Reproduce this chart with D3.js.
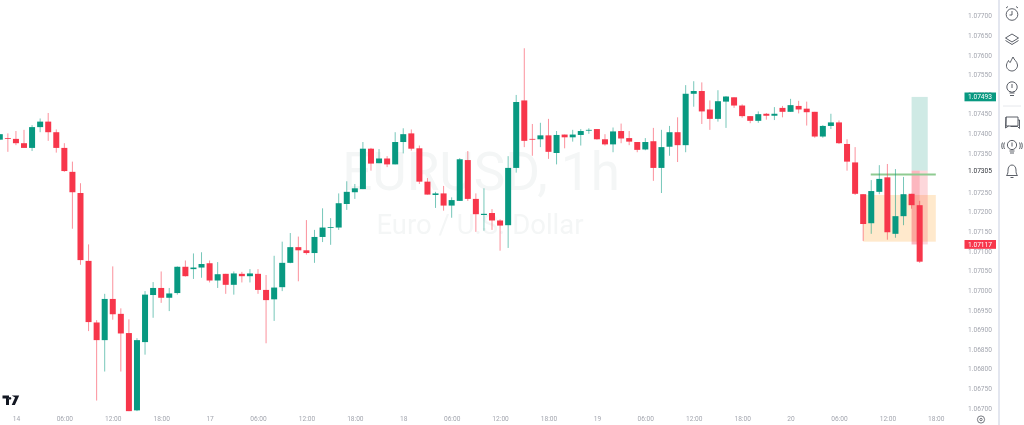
<!doctype html>
<html>
<head>
<meta charset="utf-8" />
<style>
  html, body { margin: 0; padding: 0; background: #fff; overflow: hidden; }
  text { font-family: Roboto, "Liberation Sans", sans-serif; }
</style>
<script src="https://cdn.jsdelivr.net/npm/d3@7"></script>
</head>
<body>
<div id="chart"></div>
<script>
// EUR/USD 1h candles, one entry per bar
const opens = [
  1.07384, 1.07388, 1.07386, 1.07375, 1.07363, 1.07416, 1.07430, 1.07403, 1.07363, 1.07302,
  1.07248, 1.07075, 1.06918, 1.06873, 1.06978, 1.06940, 1.06891, 1.06694, 1.06868, 1.06988,
  1.07006, 1.06981, 1.06993, 1.07060, 1.07054, 1.07058, 1.07069, 1.07025, 1.07042, 1.07014,
  1.07042, 1.07036, 1.07042, 1.07001, 1.06977, 1.07008, 1.07070, 1.07110, 1.07102, 1.07095,
  1.07136, 1.07160, 1.07160, 1.07220, 1.07250, 1.07258, 1.07361, 1.07324, 1.07336, 1.07321,
  1.07378, 1.07400, 1.07362, 1.07277, 1.07243, 1.07247, 1.07216, 1.07228, 1.07332, 1.07233,
  1.07192, 1.07197, 1.07178, 1.07166, 1.07312, 1.07484, 1.07386, 1.07385, 1.07395, 1.07350,
  1.07397, 1.07390, 1.07396, 1.07407, 1.07411, 1.07385, 1.07372, 1.07406, 1.07388, 1.07378,
  1.07359, 1.07380, 1.07312, 1.07366, 1.07403, 1.07370, 1.07501, 1.07508, 1.07461, 1.07437,
  1.07481, 1.07492, 1.07471, 1.07444, 1.07432, 1.07450, 1.07445, 1.07465, 1.07455, 1.07470,
  1.07463, 1.07455, 1.07392, 1.07419, 1.07428, 1.07373, 1.07326, 1.07245, 1.07171, 1.07251,
  1.07288, 1.07144, 1.07189, 1.07246, 1.07217,
];
const highs = [
  1.07398, 1.07400, 1.07406, 1.07409, 1.07421, 1.07438, 1.07452, 1.07410, 1.07375, 1.07328,
  1.07273, 1.07117, 1.06924, 1.06991, 1.07061, 1.06954, 1.06926, 1.06878, 1.06998, 1.07021,
  1.07048, 1.07006, 1.07061, 1.07076, 1.07094, 1.07097, 1.07076, 1.07072, 1.07042, 1.07048,
  1.07047, 1.07054, 1.07054, 1.07039, 1.07088, 1.07124, 1.07146, 1.07137, 1.07179, 1.07154,
  1.07209, 1.07184, 1.07247, 1.07278, 1.07271, 1.07378, 1.07363, 1.07360, 1.07342, 1.07403,
  1.07413, 1.07410, 1.07369, 1.07286, 1.07251, 1.07266, 1.07237, 1.07337, 1.07355, 1.07247,
  1.07260, 1.07207, 1.07181, 1.07342, 1.07498, 1.07617, 1.07424, 1.07427, 1.07437, 1.07406,
  1.07397, 1.07409, 1.07411, 1.07413, 1.07411, 1.07398, 1.07415, 1.07425, 1.07406, 1.07378,
  1.07388, 1.07414, 1.07409, 1.07419, 1.07441, 1.07523, 1.07533, 1.07530, 1.07484, 1.07510,
  1.07495, 1.07492, 1.07474, 1.07444, 1.07456, 1.07452, 1.07467, 1.07470, 1.07488, 1.07483,
  1.07481, 1.07455, 1.07421, 1.07450, 1.07433, 1.07385, 1.07365, 1.07245, 1.07281, 1.07319,
  1.07322, 1.07309, 1.07289, 1.07246, 1.07228,
];
const lows = [
  1.07383, 1.07353, 1.07370, 1.07363, 1.07355, 1.07403, 1.07381, 1.07351, 1.07302, 1.07157,
  1.07065, 1.06896, 1.06719, 1.06793, 1.06925, 1.06793, 1.06692, 1.06692, 1.06836, 1.06930,
  1.06968, 1.06947, 1.06989, 1.07035, 1.07029, 1.07032, 1.07020, 1.07006, 1.06991, 1.06989,
  1.07020, 1.07020, 1.06991, 1.06865, 1.06922, 1.06998, 1.07069, 1.07023, 1.07091, 1.07070,
  1.07123, 1.07116, 1.07154, 1.07205, 1.07233, 1.07258, 1.07305, 1.07324, 1.07314, 1.07321,
  1.07349, 1.07356, 1.07271, 1.07244, 1.07210, 1.07203, 1.07185, 1.07228, 1.07228, 1.07149,
  1.07152, 1.07154, 1.07101, 1.07108, 1.07300, 1.07365, 1.07343, 1.07365, 1.07335, 1.07321,
  1.07362, 1.07379, 1.07369, 1.07399, 1.07384, 1.07369, 1.07352, 1.07375, 1.07370, 1.07352,
  1.07357, 1.07279, 1.07248, 1.07343, 1.07327, 1.07352, 1.07468, 1.07424, 1.07409, 1.07430,
  1.07414, 1.07465, 1.07440, 1.07426, 1.07427, 1.07435, 1.07434, 1.07441, 1.07455, 1.07451,
  1.07420, 1.07389, 1.07389, 1.07411, 1.07373, 1.07305, 1.07243, 1.07126, 1.07144, 1.07245,
  1.07129, 1.07134, 1.07166, 1.07208, 1.07070,
];
const closes = [
  1.07398, 1.07386, 1.07375, 1.07363, 1.07416, 1.07430, 1.07403, 1.07363, 1.07304, 1.07250,
  1.07077, 1.06919, 1.06873, 1.06978, 1.06939, 1.06890, 1.06692, 1.06873, 1.06989, 1.07006,
  1.06981, 1.06992, 1.07060, 1.07036, 1.07058, 1.07067, 1.07025, 1.07041, 1.07014, 1.07043,
  1.07036, 1.07043, 1.07001, 1.06975, 1.07007, 1.07070, 1.07110, 1.07102, 1.07095, 1.07136,
  1.07160, 1.07161, 1.07222, 1.07251, 1.07260, 1.07361, 1.07323, 1.07336, 1.07321, 1.07378,
  1.07398, 1.07361, 1.07277, 1.07244, 1.07247, 1.07216, 1.07230, 1.07334, 1.07233, 1.07194,
  1.07195, 1.07178, 1.07165, 1.07312, 1.07480, 1.07381, 1.07384, 1.07395, 1.07353, 1.07396,
  1.07390, 1.07397, 1.07406, 1.07409, 1.07385, 1.07372, 1.07405, 1.07387, 1.07379, 1.07358,
  1.07378, 1.07312, 1.07365, 1.07403, 1.07370, 1.07501, 1.07508, 1.07456, 1.07437, 1.07482,
  1.07494, 1.07471, 1.07444, 1.07432, 1.07449, 1.07445, 1.07450, 1.07455, 1.07472, 1.07461,
  1.07454, 1.07392, 1.07419, 1.07428, 1.07375, 1.07328, 1.07246, 1.07169, 1.07253, 1.07284,
  1.07148, 1.07189, 1.07245, 1.07217, 1.07073,
];

// price axis
const priceTicks = [
  1.077, 1.0765, 1.076, 1.0755, 1.075, 1.0745, 1.074, 1.0735, 1.0725, 1.072, 1.0715,
  1.071, 1.0705, 1.07, 1.0695, 1.069, 1.0685, 1.068, 1.0675, 1.067,
];

// time axis: bar index and label
const timeTickBars = [2, 8, 14, 20, 26, 32, 38, 44, 50, 56, 62, 68, 74, 80, 86, 92, 98, 104, 110, 116];
const timeTickLabels = [
  "14", "06:00", "12:00", "18:00", "17", "06:00", "12:00", "18:00", "18", "06:00",
  "12:00", "18:00", "19", "06:00", "12:00", "18:00", "20", "06:00", "12:00", "18:00",
];

// position tool and drawn levels
const targetPrice = 1.07493;
const entryPrice = 1.07305;
const stopPrice = 1.07117;
const zoneTop = 1.07243;
const zoneBottom = 1.07124;
const levelPrice = 1.07295;

const width = 1024;
const height = 425;
const UP = "#089981";
const DOWN = "#f7364b";

const x = d3.scaleLinear().domain([0, 116]).range([-0.2, 935.8]);
const y = d3.scaleLinear().domain([1.067, 1.077]).range([408, 15.7]);

const svg = d3
  .select("#chart")
  .append("svg")
  .attr("width", width)
  .attr("height", height)
  .style("display", "block");

// the photo is slightly soft, everything is drawn in this group
const root = svg.append("g").style("filter", "blur(0.3px)");

// Watermark
root
  .append("text")
  .attr("x", 481)
  .attr("y", 190)
  .attr("text-anchor", "middle")
  .attr("font-size", 53)
  .attr("fill", "#f4f6f6")
  .text("EURUSD, 1h");

root
  .append("text")
  .attr("x", 480)
  .attr("y", 234)
  .attr("text-anchor", "middle")
  .attr("font-size", 27.5)
  .attr("fill", "#f4f6f6")
  .text("Euro / U.S. Dollar");

// Drawings behind the candles
root
  .append("rect")
  .attr("x", x(107))
  .attr("width", x(116) - x(107))
  .attr("y", y(zoneTop))
  .attr("height", y(zoneBottom) - y(zoneTop))
  .attr("fill", "#ffe9cc");

root
  .append("rect")
  .attr("x", x(113))
  .attr("width", x(115) - x(113))
  .attr("y", y(targetPrice))
  .attr("height", y(entryPrice) - y(targetPrice))
  .attr("fill", "#cfeae5");

root
  .append("rect")
  .attr("x", x(113))
  .attr("width", x(115) - x(113))
  .attr("y", y(entryPrice))
  .attr("height", y(stopPrice) - y(entryPrice))
  .attr("fill", "rgba(247,54,75,0.2)");

root
  .append("rect")
  .attr("x", x(113))
  .attr("width", x(114) - x(113))
  .attr("y", y(entryPrice))
  .attr("height", y(stopPrice) - y(entryPrice))
  .attr("fill", "rgba(247,54,75,0.2)");

root
  .append("line")
  .attr("x1", x(108) - 0.5)
  .attr("x2", x(116))
  .attr("y1", y(levelPrice))
  .attr("y2", y(levelPrice))
  .attr("stroke", "#8fcb92")
  .attr("stroke-width", 2);

// Candles
const candles = root
  .selectAll("g.candle")
  .data(d3.range(opens.length))
  .join("g")
  .attr("class", "candle")
  .attr("stroke", (i) => (closes[i] >= opens[i] ? UP : DOWN))
  .attr("fill", (i) => (closes[i] >= opens[i] ? UP : DOWN));

candles
  .append("line")
  .attr("x1", (i) => x(i))
  .attr("x2", (i) => x(i))
  .attr("y1", (i) => y(highs[i]))
  .attr("y2", (i) => y(lows[i]))
  .attr("stroke-opacity", 0.55)
  .attr("stroke-width", 1);

candles
  .append("rect")
  .attr("x", (i) => x(i) - 3)
  .attr("width", 6)
  .attr("y", (i) => y(Math.max(opens[i], closes[i])))
  .attr("height", (i) => Math.max(0.8, Math.abs(y(opens[i]) - y(closes[i]))))
  .attr("stroke", "none");

// Axes
const yAxis = root
  .append("g")
  .attr("transform", "translate(992,0)")
  .call(d3.axisRight(y).tickValues(priceTicks).tickSize(0).tickPadding(0).tickFormat(d3.format(".5f")))
  .call((g) => g.select(".domain").remove());

yAxis
  .selectAll("text")
  .attr("text-anchor", "end")
  .attr("font-family", null)
  .attr("font-size", 6.6)
  .attr("fill", "#a3a6af");

const xAxis = root
  .append("g")
  .attr("transform", "translate(0,413)")
  .call(
    d3
      .axisBottom(x)
      .tickValues(timeTickBars)
      .tickSize(0)
      .tickPadding(3)
      .tickFormat((d, i) => timeTickLabels[i]),
  )
  .call((g) => g.select(".domain").remove());

xAxis
  .selectAll("text")
  .attr("font-family", null)
  .attr("font-size", 6.6)
  .attr("fill", "#a3a6af");

// Price labels on the scale
function priceLabel(price, fill, textColor) {
  if (fill) {
    root
      .append("rect")
      .attr("x", 964.5)
      .attr("width", 31.5)
      .attr("y", y(price) - 4.4)
      .attr("height", 8.8)
      .attr("fill", fill);
  }
  root
    .append("text")
    .attr("x", 992)
    .attr("y", y(price))
    .attr("dy", "0.34em")
    .attr("text-anchor", "end")
    .attr("font-size", 6.6)
    .attr("fill", textColor)
    .text(price.toFixed(5));
}
priceLabel(targetPrice, UP, "#fff");
priceLabel(entryPrice, null, "#30333a");
priceLabel(stopPrice, DOWN, "#fff");

// Right toolbar
root
  .append("rect")
  .attr("x", 998)
  .attr("width", 2)
  .attr("height", height)
  .attr("fill", "#e3e6ef");

root
  .append("line")
  .attr("x1", 1003)
  .attr("x2", 1021)
  .attr("y1", 106)
  .attr("y2", 106)
  .attr("stroke", "#e6e8ec");

const icons = root
  .append("g")
  .attr("fill", "none")
  .attr("stroke", "#4a4e57")
  .attr("stroke-width", 0.9);

// alarm clock
icons.append("circle").attr("cx", 1012).attr("cy", 14.5).attr("r", 5.8);
icons.append("path").attr("d", "M1012 11v4h-2.5M1006 8l2-1.5M1018 8l-2-1.5");
// layers
icons.append("path").attr("d", "M1012 34l6.5 4-6.5 4-6.5-4zM1005.5 40.5l6.5 4 6.5-4");
// flame
icons.append("path").attr("d", "M1013 57c1 3 4 4 4.5 8 .3 3-2.5 6-5.5 6s-6-2.5-5.5-6c.3-2 1.5-3.5 2-4.5.5 1 1 2 1.7 2 .8-2 1.8-3.5 2.8-5.5z");
// bulb
icons.append("circle").attr("cx", 1012).attr("cy", 87).attr("r", 5.2);
icons.append("path").attr("d", "M1012 84v4M1009.5 93h5M1010 95.5h4M1010 92v-1M1014 92v-1");
// chat
icons.append("path").attr("d", "M1006 117h12v9h-12zM1018 120h1.5v8.5l-2-2h-7");
icons.append("path").attr("d", "M1006 117l-.5 11 3-2");
// broadcast bulb
icons.append("circle").attr("cx", 1012).attr("cy", 145).attr("r", 4.6);
icons.append("path").attr("d", "M1012 142.5v4M1009.5 151h5M1010 153h4M1004.5 142.5c-1 2-1 4.5 0 6.5M1002.5 142.5c-1 2-1 4.5 0 6.5M1019.5 142.5c1 2 1 4.5 0 6.5M1021.5 142.5c1 2 1 4.5 0 6.5");
// bell
icons.append("path").attr("d", "M1006.5 175.5c1.5-1.5 1.5-3.5 1.5-5.5 0-3 1.8-5 4-5s4 2 4 5c0 2 0 4 1.5 5.5zM1010.5 177.5h3");

// gear at the corner of the scales
root
  .append("g")
  .attr("fill", "none")
  .attr("stroke", "#555962")
  .attr("stroke-width", 0.8)
  .call((g) => g.append("circle").attr("cx", 981).attr("cy", 419.5).attr("r", 3.6))
  .call((g) => g.append("circle").attr("cx", 981).attr("cy", 419.5).attr("r", 1.2));

// TradingView logo
root
  .append("path")
  .attr("d", "M2.5 395.5h6.5v9.5h-3v-6.5h-3.5zM11.7 395.5h7.5l-4.3 9.5h-3.2l3.4-7.5zM10 397a1.3 1.3 0 1 0 .01 0z")
  .attr("fill", "#131722");
</script>
</body>
</html>
